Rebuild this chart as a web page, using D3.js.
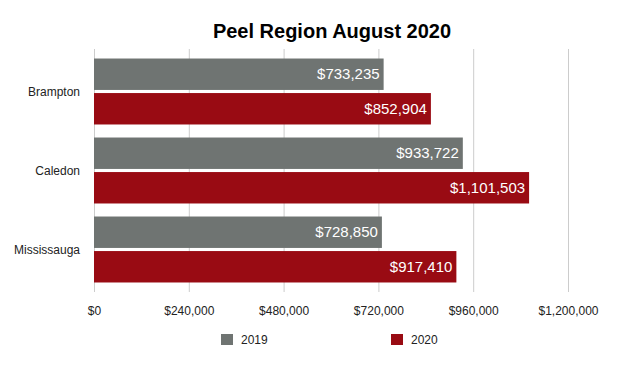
<!DOCTYPE html>
<html>
<head>
<meta charset="utf-8">
<script src="https://cdn.jsdelivr.net/npm/d3@7"></script>
<style>
  html, body { margin: 0; padding: 0; background: #fff; }
  svg { display: block; font-family: Arial, "Liberation Sans", sans-serif; }
</style>
</head>
<body>
<svg id="chart" width="625" height="366"></svg>
<script>
const title = "Peel Region August 2020";
const categories = ["Brampton", "Caledon", "Mississauga"];
const seriesNames = ["2019", "2020"];
const values2019 = [733235, 933722, 728850];
const values2020 = [852904, 1101503, 917410];
const tickValues = [0, 240000, 480000, 720000, 960000, 1200000];
const colors = ["#6f7472", "#990b13"];

const svg = d3.select("#chart");
const plotLeft = 94, plotRight = 568, plotTop = 52, plotBottom = 289;

const x = d3.scaleLinear().domain([0, 1200000]).range([plotLeft, plotRight]);
const y0 = d3.scaleBand().domain(categories).range([plotTop, plotBottom])
  .paddingInner(0.165).paddingOuter(0.0825);
const y1 = d3.scaleBand().domain(seriesNames).range([0, y0.bandwidth()])
  .paddingInner(0.09);
const color = d3.scaleOrdinal().domain(seriesNames).range(colors);

// title
svg.append("text")
  .attr("x", 332).attr("y", 38)
  .attr("text-anchor", "middle")
  .attr("font-size", 20).attr("font-weight", "bold")
  .attr("fill", "#000")
  .text(title);

// grid + axis
const axis = d3.axisBottom(x)
  .tickValues(tickValues)
  .tickSize(-(plotBottom + 3 - 49))
  .tickPadding(14)
  .tickFormat(d => "$" + d3.format(",")(d));

const gAxis = svg.append("g")
  .attr("transform", `translate(0,${plotBottom + 3})`)
  .call(axis);
gAxis.select(".domain").remove();
gAxis.selectAll(".tick line").attr("stroke", "#cccccc").attr("stroke-width", 1);
gAxis.selectAll(".tick text")
  .attr("font-size", 12).attr("fill", "#222")
  .attr("font-family", "Arial, 'Liberation Sans', sans-serif");

// data rows
const rows = categories.map((c, i) => ({
  category: c,
  values: [
    { series: seriesNames[0], value: values2019[i] },
    { series: seriesNames[1], value: values2020[i] }
  ]
}));

const groups = svg.append("g").selectAll("g")
  .data(rows).join("g")
  .attr("transform", d => `translate(0,${y0(d.category)})`);

groups.selectAll("rect")
  .data(d => d.values).join("rect")
  .attr("x", x(0))
  .attr("y", d => y1(d.series))
  .attr("width", d => x(d.value) - x(0))
  .attr("height", y1.bandwidth())
  .attr("fill", d => color(d.series));

groups.selectAll("text.val")
  .data(d => d.values).join("text")
  .attr("class", "val")
  .attr("x", d => x(d.value) - 4)
  .attr("y", d => y1(d.series) + y1.bandwidth() / 2)
  .attr("dy", "0.35em")
  .attr("text-anchor", "end")
  .attr("font-size", 15)
  .attr("fill", "#ffffff")
  .text(d => "$" + d3.format(",")(d.value));

// category labels
svg.append("g").selectAll("text")
  .data(categories).join("text")
  .attr("x", 80)
  .attr("y", d => y0(d) + y0.bandwidth() / 2)
  .attr("dy", "0.35em")
  .attr("text-anchor", "end")
  .attr("font-size", 12)
  .attr("fill", "#222")
  .text(d => d);

// legend
const legendX = [221, 391];
const legend = svg.append("g").selectAll("g")
  .data(seriesNames).join("g")
  .attr("transform", (d, i) => `translate(${legendX[i]},334)`);
legend.append("rect")
  .attr("width", 12).attr("height", 11)
  .attr("fill", d => color(d));
legend.append("text")
  .attr("x", 20).attr("y", 9.5)
  .attr("font-size", 12).attr("fill", "#222")
  .text(d => d);
</script>
</body>
</html>
